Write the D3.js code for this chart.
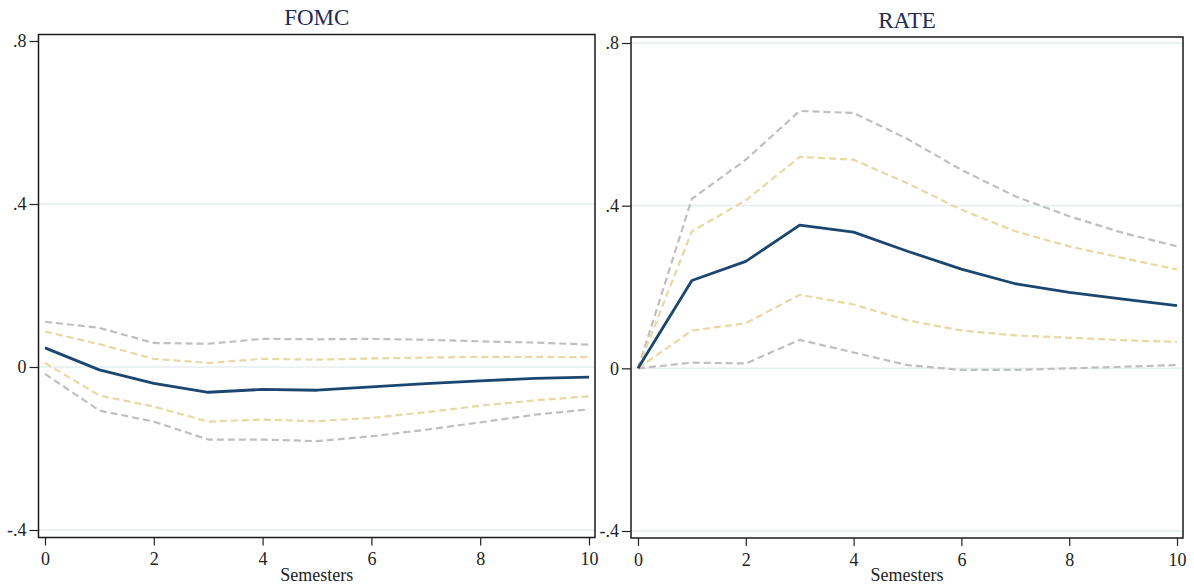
<!DOCTYPE html>
<html>
<head>
<meta charset="utf-8">
<script src="https://cdn.jsdelivr.net/npm/d3@7"></script>
<style>
  html, body { margin: 0; padding: 0; background: #fff; }
  svg { display: block; }
</style>
</head>
<body>
<svg id="chart" width="1194" height="587"></svg>
<script>
// ---------- data ----------
const periods = [0,1,2,3,4,5,6,7,8,9,10];
const xTicks = [0,2,4,6,8,10];
const yTicks = [-0.4, 0, 0.4, 0.8];
const yTickLabels = ["-.4", "0", ".4", ".8"];
const panelTitles = ["FOMC", "RATE"];
const xAxisLabel = "Semesters";

// FOMC panel
const fomcIRF     = [0.047, -0.007, -0.040, -0.062, -0.055, -0.057, -0.049, -0.041, -0.034, -0.028, -0.025];
const fomcUpper68 = [0.087, 0.056, 0.020, 0.010, 0.020, 0.018, 0.021, 0.023, 0.025, 0.025, 0.024];
const fomcLower68 = [0.010, -0.070, -0.097, -0.134, -0.129, -0.133, -0.125, -0.111, -0.095, -0.082, -0.072];
const fomcUpper90 = [0.111, 0.096, 0.059, 0.057, 0.069, 0.068, 0.069, 0.067, 0.063, 0.060, 0.055];
const fomcLower90 = [-0.017, -0.107, -0.134, -0.178, -0.178, -0.182, -0.170, -0.154, -0.136, -0.117, -0.104];

// RATE panel
const rateIRF     = [0, 0.216, 0.263, 0.352, 0.335, 0.288, 0.244, 0.208, 0.187, 0.170, 0.154];
const rateUpper68 = [0, 0.337, 0.413, 0.520, 0.513, 0.455, 0.390, 0.337, 0.300, 0.271, 0.243];
const rateLower68 = [0, 0.093, 0.111, 0.181, 0.157, 0.118, 0.093, 0.081, 0.075, 0.069, 0.065];
const rateUpper90 = [0, 0.417, 0.513, 0.633, 0.628, 0.564, 0.488, 0.423, 0.374, 0.333, 0.300];
const rateLower90 = [0, 0.014, 0.012, 0.070, 0.039, 0.008, -0.004, -0.004, 0, 0.004, 0.008];

// ---------- layout ----------
const panels = [
  { title: panelTitles[0], irf: fomcIRF, u68: fomcUpper68, l68: fomcLower68, u90: fomcUpper90, l90: fomcLower90,
    box: {x0: 38.5, x1: 595, y0: 34.5, y1: 537.5}, xr: [45, 589], yr: [530, 41], titleY: 25, grid80: false },
  { title: panelTitles[1], irf: rateIRF, u68: rateUpper68, l68: rateLower68, u90: rateUpper90, l90: rateLower90,
    box: {x0: 631, x1: 1183, y0: 37, y1: 538}, xr: [638, 1177], yr: [531, 43], titleY: 28, grid80: true }
];

const font = "'Liberation Serif', 'DejaVu Serif', serif";
const colNavy = "#1b4670", colYellow = "#e8d8a2", colGray = "#bfbfbf", colGrid = "#e5eef0";

const svg = d3.select("#chart");

panels.forEach(p => {
  const x = d3.scaleLinear().domain([0, 10]).range(p.xr);
  const y = d3.scaleLinear().domain([-0.4, 0.8]).range(p.yr);
  const g = svg.append("g");

  // gridlines
  g.selectAll("line.grid").data(yTicks.filter(t => p.grid80 || t !== 0.8)).enter()
    .append("line")
    .attr("x1", p.box.x0).attr("x2", p.box.x1)
    .attr("y1", d => y(d)).attr("y2", d => y(d))
    .attr("stroke", colGrid).attr("stroke-width", 1.6);

  const line = d3.line().x((d, i) => x(periods[i])).y(d => y(d));

  const series = [
    { d: p.u90, c: colGray, dash: "7,4", w: 2.2 },
    { d: p.l90, c: colGray, dash: "7,4", w: 2.2 },
    { d: p.u68, c: colYellow, dash: "7,4", w: 2.2 },
    { d: p.l68, c: colYellow, dash: "7,4", w: 2.2 },
    { d: p.irf, c: colNavy, dash: null, w: 2.8 }
  ];
  series.forEach(s => {
    g.append("path").attr("d", line(s.d))
      .attr("fill", "none").attr("stroke", s.c).attr("stroke-width", s.w)
      .attr("stroke-dasharray", s.dash).attr("stroke-linejoin", "round");
  });

  // box
  g.append("rect")
    .attr("x", p.box.x0).attr("y", p.box.y0)
    .attr("width", p.box.x1 - p.box.x0).attr("height", p.box.y1 - p.box.y0)
    .attr("fill", "none").attr("stroke", "#1a1a1a").attr("stroke-width", 1.5);

  // y axis
  const yAxis = d3.axisLeft(y).tickValues(yTicks).tickSize(9).tickPadding(3)
    .tickFormat((d, i) => yTickLabels[i]);
  const ya = g.append("g").attr("transform", `translate(${p.box.x0},0)`).call(yAxis);
  ya.select(".domain").remove();
  ya.selectAll("line").attr("stroke", "#222").attr("stroke-width", 1.2);
  ya.selectAll("text").attr("font-family", font).attr("font-size", 18).attr("fill", "#222");

  // x axis
  const xAxis = d3.axisBottom(x).tickValues(xTicks).tickSize(8).tickPadding(7).tickFormat(d3.format("d"));
  const xa = g.append("g").attr("transform", `translate(0,${p.box.y1})`).call(xAxis);
  xa.select(".domain").remove();
  xa.selectAll("line").attr("stroke", "#222").attr("stroke-width", 1.2);
  xa.selectAll("text").attr("font-family", font).attr("font-size", 18).attr("fill", "#222");

  // x label
  g.append("text").attr("x", (p.box.x0 + p.box.x1) / 2).attr("y", p.box.y1 + 43)
    .attr("text-anchor", "middle").attr("font-family", font).attr("font-size", 18)
    .attr("fill", "#222").text(xAxisLabel);

  // title
  g.append("text").attr("x", (p.box.x0 + p.box.x1) / 2).attr("y", p.titleY)
    .attr("text-anchor", "middle").attr("font-family", font).attr("font-size", 23)
    .attr("fill", "#1e2b55").text(p.title);
});
</script>
</body>
</html>
